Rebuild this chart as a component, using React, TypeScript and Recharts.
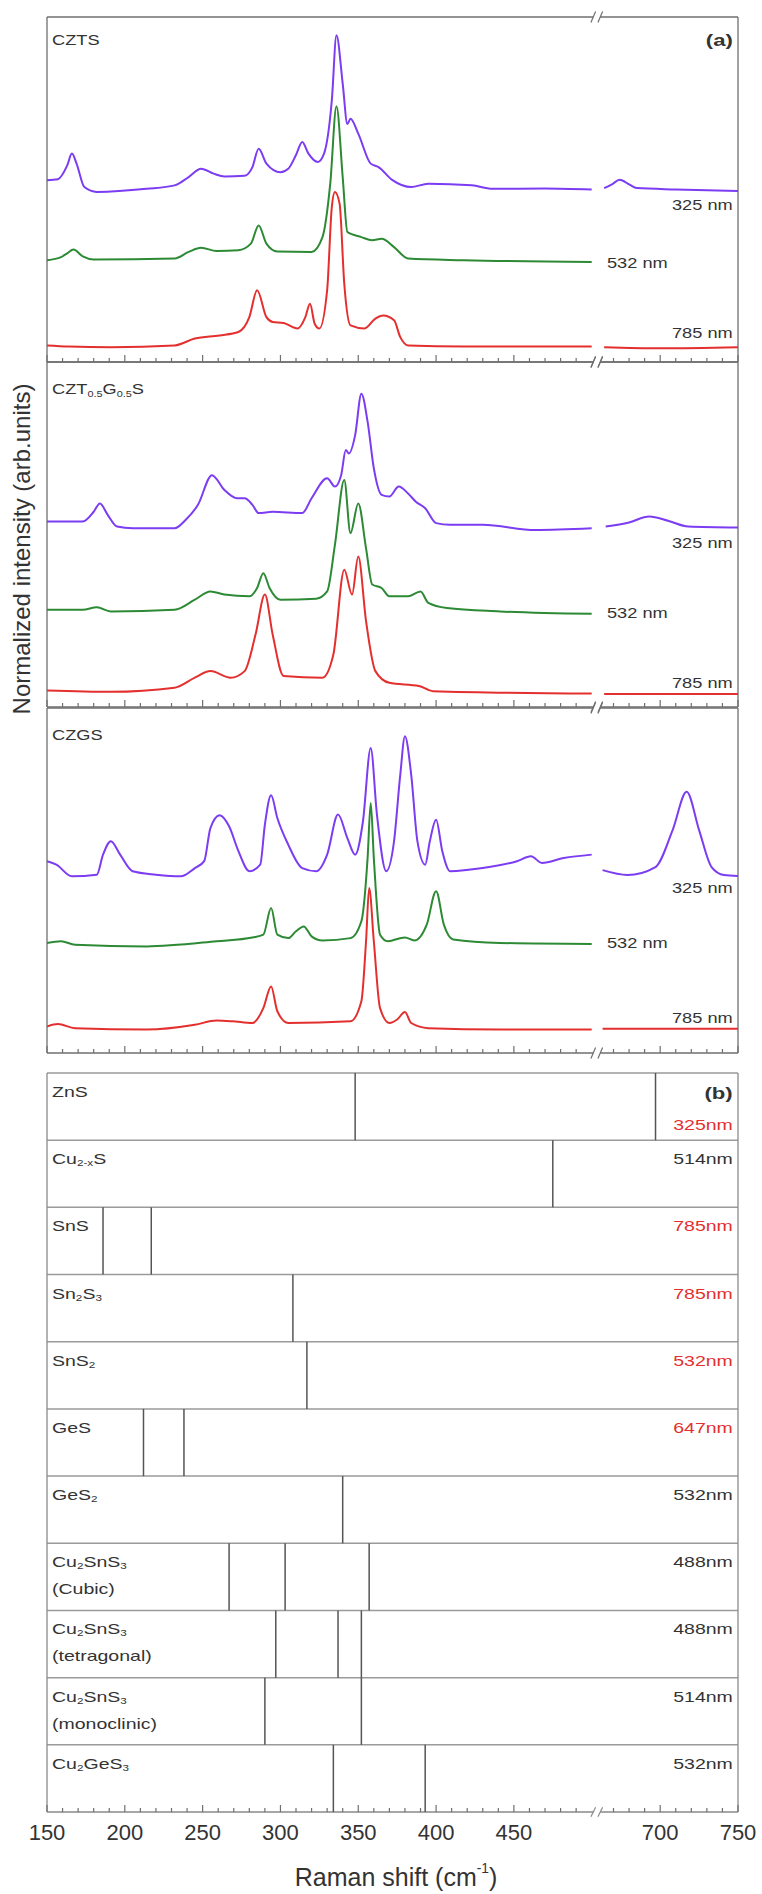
import React from 'react';
import { LineChart, Line, XAxis, YAxis, ReferenceLine } from 'recharts';

type Pt = [number, number];

// broken x axis: 150-500 then 660-750, the right window is shifted left
const RIGHT_SHIFT = 156;
const X_MIN = 150;
const X_MAX = 594;
const BREAK_L = 501;
const BREAK_R = 505.5;

const majorTicks = [150, 200, 250, 300, 350, 400, 450, 700, 750];
const minorTicks = [
  160, 170, 180, 190, 210, 220, 230, 240, 260, 270, 280, 290, 310, 320, 330, 340,
  360, 370, 380, 390, 410, 420, 430, 440, 460, 470, 480, 490, 670, 680, 690, 710,
  720, 730, 740,
];

// (a) spectra: x = Raman shift (cm-1), y = stacked normalized intensity (0-100 per panel)
const cztsUv: Pt[] = [
  [150, 52.7], [157, 53], [163, 57], [166, 60.4], [169, 57.5], [174, 50.7], [182, 49.3],
  [214, 50.2], [232, 51.2], [241, 53.6], [249, 56], [257, 54.6], [264, 53.8], [277, 54],
  [282, 56.5], [286, 61.8], [291, 57.5], [300, 55], [305, 56], [310, 60], [314, 63.8],
  [318, 60.4], [324, 58], [328, 60.4], [333, 75.8], [336, 94.7], [340, 80.7], [343, 69],
  [345, 70.5], [350, 66.2], [358, 57.5], [363, 56.5], [372, 52.7], [384, 50.7], [395, 51.7],
  [423, 51.2], [436, 50.2], [470, 50.3], [500, 50],
  [664, 50.4], [669, 51.5], [674, 52.8], [680, 51.5], [685, 50.4], [710, 50], [750, 49.6],
];
const cztsVis: Pt[] = [
  [150, 29.5], [159, 30.4], [163, 31.5], [167, 32.6], [173, 30.6], [180, 29.7], [232, 30],
  [241, 31.9], [249, 33.1], [259, 32.2], [273, 32.4], [281, 34.3], [286, 39.6], [291, 34.3],
  [298, 32], [320, 31.9], [327, 36.2], [332, 51.7], [336, 74.1], [340, 53.6], [343, 37.7],
  [352, 36.2], [359, 35.3], [365, 35.7], [373, 33.3], [382, 30], [418, 29.5], [500, 29],
];
const cztsIr: Pt[] = [
  [150, 4.8], [164, 4.5], [191, 4.3], [232, 4.8], [245, 6.8], [261, 7.7], [273, 8.7],
  [280, 13], [285, 20.8], [291, 13], [295, 11.6], [302, 11.3], [311, 9.7], [316, 13],
  [319, 16.9], [322, 11.1], [325, 9.7], [330, 20.8], [333, 44.9], [335, 49.3], [338, 45.9],
  [341, 22.7], [345, 10.6], [354, 9.7], [361, 12.6], [366, 13.5], [373, 12.1], [377, 7.2],
  [382, 4.8], [418, 4.5], [500, 4.5],
  [664, 4.3], [700, 4], [750, 4.3],
];

const cztgUv: Pt[] = [
  [150, 53.8], [173, 53.8], [180, 56.6], [184, 59], [189, 55.7], [195, 52.3], [205, 51.8],
  [232, 51.8], [239, 54.2], [247, 58.6], [256, 67.2], [264, 62.9], [272, 60.5], [277, 60.5],
  [282, 58.6], [286, 56.2], [295, 56.6], [314, 56.2], [320, 60.5], [330, 66.3], [335, 63.9],
  [339, 67.2], [342, 74.5], [344, 73.5], [348, 78.8], [352, 90.8], [356, 82.7], [360, 69.2],
  [365, 61.5], [370, 61], [376, 63.9], [382, 61.9], [387, 59.5], [393, 57.6], [400, 53.3],
  [409, 52.8], [430, 52.8], [464, 51.3], [500, 51.8],
  [665, 52.3], [680, 53.5], [693, 55.2], [705, 54], [718, 52.3], [750, 52],
];
const cztgVis: Pt[] = [
  [150, 28.2], [173, 28.2], [182, 28.9], [191, 27.7], [232, 28.2], [245, 31.1], [255, 33.5],
  [264, 32.6], [280, 32.1], [285, 34.5], [289, 38.8], [293, 34.5], [300, 31.1], [323, 31.4],
  [330, 33.5], [335, 47], [341, 65.8], [345, 50.4], [350, 59], [355, 46], [359, 35.5],
  [365, 34.5], [370, 32.1], [382, 32.1], [390, 33.5], [395, 30.2], [407, 28.7], [441, 27.7],
  [500, 27],
];
const cztgIr: Pt[] = [
  [150, 4.8], [191, 4.4], [232, 5.6], [245, 8.5], [255, 10.4], [268, 8.5], [277, 10.4],
  [284, 21], [290, 32.6], [295, 21], [302, 9], [327, 8.5], [334, 15.2], [341, 39.8],
  [346, 32.6], [350, 43.6], [355, 24.9], [361, 10.4], [370, 7], [389, 6.1], [398, 4.6],
  [500, 3.9],
  [664, 3.8], [750, 3.8],
];

const czgsUv: Pt[] = [
  [150, 55.6], [156, 54.6], [166, 51.2], [182, 51.7], [186, 57.5], [191, 61.4], [197, 57.5],
  [205, 52.7], [220, 51.7], [236, 51.2], [245, 53.6], [251, 55.6], [255, 65.2], [261, 68.9],
  [267, 65.7], [273, 58.5], [280, 52.7], [287, 54.6], [290, 66.2], [294, 74.7], [298, 68.1],
  [305, 60.4], [314, 53.6], [323, 52.7], [330, 57.5], [337, 69.1], [343, 62.3], [348, 57.5],
  [353, 67.1], [358, 88.4], [362, 69.1], [368, 52.7], [373, 61.4], [377, 80.7], [380, 91.8],
  [384, 80.7], [388, 61.4], [393, 54.6], [396, 61.4], [400, 67.6], [404, 58.5], [409, 52.7],
  [430, 53.6], [452, 55.6], [461, 57], [468, 55.1], [482, 56.5], [500, 57.5],
  [663, 53], [679, 51.6], [697, 53.9], [708, 64.6], [717, 75.7], [725, 64.6], [733, 53.9],
  [741, 51.6], [750, 51.3],
];
const czgsVis: Pt[] = [
  [150, 31.9], [159, 32.4], [168, 31.4], [214, 30.9], [259, 32.4], [282, 33.5], [289, 34.3],
  [294, 42], [298, 34.3], [305, 33.3], [310, 35.3], [315, 36.7], [320, 33.8], [327, 32.6],
  [345, 33.3], [352, 38.2], [356, 56.5], [358, 72.5], [360, 56.5], [364, 34.3], [369, 32.4],
  [380, 33.5], [386, 32.6], [394, 37.2], [400, 46.9], [405, 37.2], [411, 32.9], [441, 31.9],
  [500, 31.6],
];
const czgsIr: Pt[] = [
  [150, 7.7], [157, 8.4], [168, 7.2], [214, 6.8], [245, 8.2], [259, 9.4], [269, 9.2],
  [282, 8.7], [289, 13], [294, 19.3], [298, 12.1], [305, 8.7], [345, 9.2], [352, 15],
  [355, 32.4], [357, 47.8], [360, 32.4], [364, 13], [370, 8.7], [375, 9.7], [380, 11.9],
  [384, 8.7], [395, 7.2], [441, 6.8], [500, 6.8],
  [663, 7], [750, 7],
];

const sampleNames = ['CZTS', 'CZT_{0.5}G_{0.5}S', 'CZGS'];
const laserLabels = ['325 nm', '532 nm', '785 nm'];

// (b) reference phases
const phaseNames = [
  'ZnS', 'Cu_{2-x}S', 'SnS', 'Sn_{2}S_{3}', 'SnS_{2}', 'GeS', 'GeS_{2}',
  'Cu_{2}SnS_{3}', 'Cu_{2}SnS_{3}', 'Cu_{2}SnS_{3}', 'Cu_{2}GeS_{3}',
];
const phaseNotes = ['', '', '', '', '', '', '', '(Cubic)', '(tetragonal)', '(monoclinic)', ''];
const phaseLasers = ['325nm', '514nm', '785nm', '785nm', '532nm', '647nm', '532nm', '488nm', '488nm', '514nm', '532nm'];
const phaseLaserRed = [true, false, true, true, true, true, false, false, false, false, false];
const phasePeaks = [
  [348, 697], [475], [186, 217], [308], [317], [212, 238], [340],
  [267, 303, 357], [297, 337, 352], [290, 352], [334, 393],
];

const PURPLE = '#7b3cf2';
const GREEN = '#2d8a34';
const RED = '#e3302f';
const FRAME = '#6f6f6f';
const TEXT = '#333';

const PLOT_LEFT = 47;
const PLOT_W = 691;
const PAD = 10;
const PAD_X = 30;
const PANEL_TOPS = [17, 362, 708];
const PANEL_H = 345;
const REF_TOP = 1073;
const REF_H = 739;

const toAxis = (v: number) => (v > 600 ? v - RIGHT_SHIFT : v);
const fromAxis = (v: number) => (v > 520 ? v + RIGHT_SHIFT : v);
const majorSet = new Set(majorTicks.map(toAxis));
const axisTicks = [...majorTicks, ...minorTicks].map(toAxis).sort((a, b) => a - b);

function toSeries(pts: Pt[]) {
  const out: { x: number; y: number | null }[] = [];
  pts.forEach(([x, y], i) => {
    if (i > 0 && pts[i - 1][0] <= 500 && x > 600) out.push({ x: (BREAK_L + BREAK_R) / 2, y: null });
    out.push({ x: toAxis(x), y });
  });
  return out;
}

function Rich({ text }: { text: string }) {
  const parts = text.split(/(_\{[^}]*\})/).filter(Boolean);
  return (
    <>
      {parts.map((p, i) =>
        p.startsWith('_{') ? (
          <sub key={i} style={{ fontSize: '0.6em', verticalAlign: '-0.3em', lineHeight: 0 }}>
            {p.slice(2, -1)}
          </sub>
        ) : (
          <span key={i}>{p}</span>
        )
      )}
    </>
  );
}

function Tag({
  x, y, align = 'left', size = 14, color = TEXT, bold = false, children,
}: {
  x: number; y: number; align?: 'left' | 'right'; size?: number; color?: string; bold?: boolean;
  children: React.ReactNode;
}) {
  const style: React.CSSProperties = {
    position: 'absolute',
    top: y,
    whiteSpace: 'nowrap',
    fontSize: size,
    lineHeight: 1,
    color,
    fontWeight: bold ? 700 : 400,
    transform: 'translateY(-50%) scaleX(1.3)',
    transformOrigin: align === 'left' ? 'left center' : 'right center',
  };
  if (align === 'left') style.left = x;
  else style.right = 762 - x;
  return <div style={style}>{children}</div>;
}

function makeTick(side: 'top' | 'bottom', labels: boolean) {
  return (props: any) => {
    const { x, y, payload } = props;
    const major = majorSet.has(payload.value);
    const len = major ? 7 : 4;
    const dir = side === 'top' ? 1 : -1;
    return (
      <g>
        <line x1={x} x2={x} y1={y} y2={y + dir * len} stroke={FRAME} strokeWidth={1.2} />
        {labels && major && (
          <text x={x} y={y + 28} textAnchor="middle" fontSize={22} fill={TEXT}>
            {fromAxis(payload.value)}
          </text>
        )}
      </g>
    );
  };
}

function frameLines(yLow: number, yHigh: number, slash: number, color: string, withTop: boolean) {
  const items: React.ReactNode[] = [];
  const rows = withTop ? [yLow, yHigh] : [yLow];
  rows.forEach((yy, k) => {
    items.push(
      <ReferenceLine key={`l${k}`} segment={[{ x: X_MIN, y: yy }, { x: BREAK_L, y: yy }]} stroke={color} strokeWidth={1.3} />,
      <ReferenceLine key={`r${k}`} segment={[{ x: BREAK_R, y: yy }, { x: X_MAX, y: yy }]} stroke={color} strokeWidth={1.3} />,
      <ReferenceLine key={`s1${k}`} ifOverflow="visible" segment={[{ x: BREAK_L - 1.5, y: yy - slash }, { x: BREAK_L + 1.5, y: yy + slash }]} stroke={color} strokeWidth={1.2} />,
      <ReferenceLine key={`s2${k}`} ifOverflow="visible" segment={[{ x: BREAK_R - 1.5, y: yy - slash }, { x: BREAK_R + 1.5, y: yy + slash }]} stroke={color} strokeWidth={1.2} />
    );
  });
  items.push(
    <ReferenceLine key="fl" x={X_MIN} stroke={color} strokeWidth={1.3} />,
    <ReferenceLine key="fr" x={X_MAX} stroke={color} strokeWidth={1.3} />
  );
  return items;
}

function SpectrumPanel({ top, series }: { top: number; series: Pt[][] }) {
  const colors = [PURPLE, GREEN, RED];
  return (
    <div style={{ position: 'absolute', left: PLOT_LEFT - PAD, top: top - PAD }}>
      <LineChart
        width={PLOT_W + 2 * PAD}
        height={PANEL_H + 2 * PAD}
        margin={{ top: PAD, right: PAD, bottom: PAD, left: PAD }}
      >
        <XAxis
          dataKey="x" type="number" domain={[X_MIN, X_MAX]} allowDataOverflow
          ticks={axisTicks} interval={0} orientation="bottom" mirror height={1}
          tickSize={0} tickMargin={0} axisLine={false} tickLine={false}
          tick={makeTick('bottom', false)}
        />
        <XAxis
          xAxisId="top" type="number" domain={[X_MIN, X_MAX]} allowDataOverflow
          ticks={axisTicks} interval={0} orientation="top" mirror height={1}
          tickSize={0} tickMargin={0} axisLine={false} tickLine={false}
          tick={makeTick('top', false)}
        />
        <YAxis hide type="number" domain={[0, 100]} allowDataOverflow />
        {frameLines(0, 100, 1.6, FRAME, true)}
        {series.map((s, i) => (
          <Line
            key={i}
            data={toSeries(s)}
            dataKey="y"
            type="monotone"
            stroke={colors[i]}
            strokeWidth={2}
            dot={false}
            activeDot={false}
            isAnimationActive={false}
          />
        ))}
      </LineChart>
    </div>
  );
}

function ReferencePanel() {
  const n = phaseNames.length;
  return (
    <div style={{ position: 'absolute', left: PLOT_LEFT - PAD_X, top: REF_TOP - PAD }}>
      <LineChart
        width={PLOT_W + 2 * PAD_X}
        height={REF_H + PAD + 45}
        margin={{ top: PAD, right: PAD_X, bottom: 45, left: PAD_X }}
      >
        <XAxis
          dataKey="x" type="number" domain={[X_MIN, X_MAX]} allowDataOverflow
          ticks={axisTicks} interval={0} orientation="bottom" mirror height={1}
          tickSize={0} tickMargin={0} axisLine={false} tickLine={false}
          tick={makeTick('bottom', true)}
        />
        <YAxis hide type="number" domain={[0, n]} allowDataOverflow />
        {phaseNames.slice(1).map((_, k) => (
          <ReferenceLine key={`row${k}`} y={k + 1} stroke="#9a9a9a" strokeWidth={1.5} />
        ))}
        <ReferenceLine y={n} stroke="#9a9a9a" strokeWidth={1.5} />
        {frameLines(0, n, 0.07, '#8a8a8a', false)}
        {phasePeaks.map((peaks, i) =>
          peaks.map((p, j) => (
            <ReferenceLine
              key={`pk${i}-${j}`}
              segment={[{ x: toAxis(p), y: n - 1 - i }, { x: toAxis(p), y: n - i }]}
              stroke="#555"
              strokeWidth={1.5}
            />
          ))
        )}
      </LineChart>
    </div>
  );
}

const panelSeries: Pt[][][] = [
  [cztsUv, cztsVis, cztsIr],
  [cztgUv, cztgVis, cztgIr],
  [czgsUv, czgsVis, czgsIr],
];
// label heights (px) of the laser tags next to each stacked panel
const laserTagY = [
  [205, 263, 333],
  [543, 613, 683],
  [888, 943, 1018],
];

export default function App() {
  const rowH = REF_H / phaseNames.length;
  return (
    <div
      style={{
        position: 'absolute', left: 0, top: 0, width: 762, height: 1894,
        background: '#fff', fontFamily: '"Liberation Sans", Arial, sans-serif', color: TEXT,
      }}
    >
      {PANEL_TOPS.map((t, i) => (
        <SpectrumPanel key={i} top={t} series={panelSeries[i]} />
      ))}
      <ReferencePanel />

      {PANEL_TOPS.map((t, i) => (
        <React.Fragment key={`lab${i}`}>
          <Tag x={52} y={t + (i === 0 ? 23 : 27)} size={14}>
            <Rich text={sampleNames[i]} />
          </Tag>
          <Tag x={733} y={laserTagY[i][0]} align="right" size={14}>{laserLabels[0]}</Tag>
          <Tag x={607} y={laserTagY[i][1]} size={14}>{laserLabels[1]}</Tag>
          <Tag x={733} y={laserTagY[i][2]} align="right" size={14}>{laserLabels[2]}</Tag>
        </React.Fragment>
      ))}
      <Tag x={733} y={40} align="right" size={17} bold>(a)</Tag>

      {phaseNames.map((name, i) => {
        const rt = REF_TOP + i * rowH;
        return (
          <React.Fragment key={`ph${i}`}>
            <Tag x={52} y={rt + 18} size={15}>
              <Rich text={name} />
            </Tag>
            {phaseNotes[i] && (
              <Tag x={52} y={rt + 45} size={15}>{phaseNotes[i]}</Tag>
            )}
            <Tag
              x={733}
              y={i === 0 ? rt + 51 : rt + 18}
              align="right"
              size={15}
              color={phaseLaserRed[i] ? RED : TEXT}
            >
              {phaseLasers[i]}
            </Tag>
          </React.Fragment>
        );
      })}
      <Tag x={733} y={REF_TOP + 20} align="right" size={17} bold>(b)</Tag>

      <div
        style={{
          position: 'absolute', left: 22, top: 549, fontSize: 24, whiteSpace: 'nowrap', lineHeight: 1,
          transform: 'translate(-50%, -50%) rotate(-90deg)',
        }}
      >
        Normalized intensity (arb.units)
      </div>
      <div
        style={{
          position: 'absolute', left: 396, top: 1877, fontSize: 25, whiteSpace: 'nowrap', lineHeight: 1,
          transform: 'translate(-50%, -50%)',
        }}
      >
        Raman shift (cm
        <sup style={{ fontSize: '0.55em', verticalAlign: '0.9em', lineHeight: 0 }}>-1</sup>)
      </div>
    </div>
  );
}
